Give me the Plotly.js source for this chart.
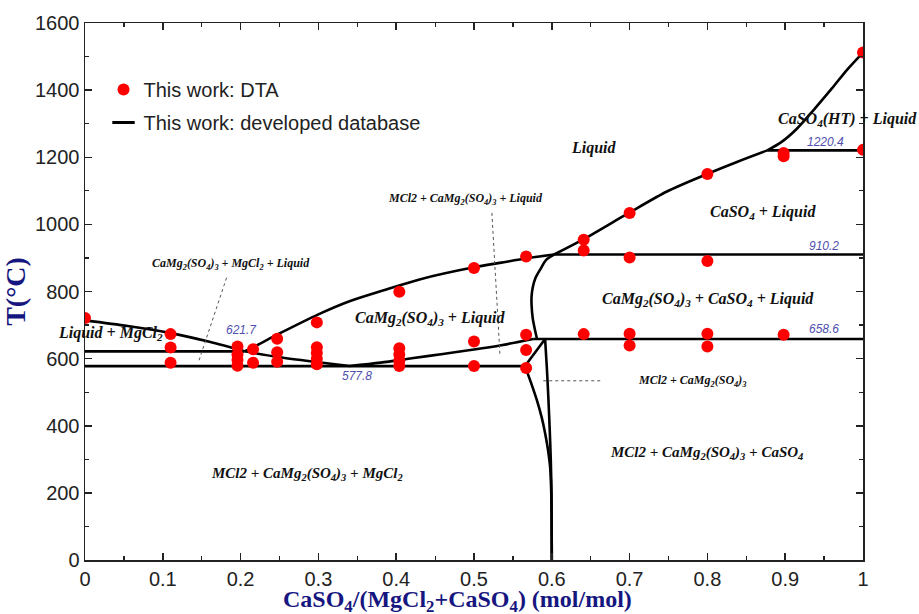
<!DOCTYPE html>
<html>
<head>
<meta charset="utf-8">
<script src="https://cdn.plot.ly/plotly-3.0.1.min.js"></script>
<style>
  html, body { margin: 0; padding: 0; background: #fff; }
  #chart { width: 919px; height: 614px; }
</style>
</head>
<body>
<div id="chart"></div>
<script>
// ---- DTA measurements: composition x(CaSO4) in mol/mol, temperature in °C ----
const dtaX = [
  0,
  0.11, 0.11, 0.11,
  0.196, 0.196, 0.196, 0.196,
  0.216, 0.216,
  0.247, 0.247, 0.247,
  0.298, 0.298, 0.298, 0.298, 0.298,
  0.404, 0.404, 0.404, 0.404, 0.404,
  0.5, 0.5, 0.5,
  0.567, 0.567, 0.567, 0.567,
  0.641, 0.641, 0.641,
  0.7, 0.7, 0.7, 0.7,
  0.8, 0.8, 0.8, 0.8,
  0.898, 0.898, 0.898,
  1.0, 1.0
];
const dtaT = [
  721,
  673, 633, 588,
  636, 612, 596, 579,
  628, 588,
  659, 619, 591,
  708, 634, 617, 600, 583,
  799, 631, 612, 594, 578,
  870, 651, 578,
  904, 671, 626, 572,
  954, 922, 673,
  1034, 901, 674, 639,
  1150, 891, 674, 636,
  1213, 1203, 671,
  1512, 1222
];

// ---- Calculated phase boundaries (developed database) ----
// MgCl2 liquidus
const liqMgCl2X = [0, 0.055, 0.11, 0.16, 0.205];
const liqMgCl2T = [714, 697, 676, 650, 621.7];
// boundary running from 621.7 °C down to the eutectic at 577.8 °C
const eutLeftX = [0.205, 0.25, 0.30, 0.34];
const eutLeftT = [621.7, 604, 589, 577.8];
// boundary rising from the eutectic to the 658.6 °C invariant
const eutRightX = [0.34, 0.38, 0.42, 0.46, 0.50, 0.535, 0.576];
const eutRightT = [577.8, 588, 601, 614, 627, 640, 658.6];
// CaMg2(SO4)3 liquidus
const liqDoubleX = [0.205, 0.216, 0.25, 0.30, 0.34, 0.383, 0.43, 0.50, 0.535, 0.568, 0.603];
const liqDoubleT = [621.7, 634, 675, 732, 771, 803, 836, 872, 886, 899, 910.2];
// CaMg2(SO4)3 stability limit between 910.2 and 658.6 °C
const doubleLimitX = [0.603, 0.593, 0.585, 0.579, 0.5755, 0.574, 0.574, 0.5755, 0.578, 0.581];
const doubleLimitT = [910.2, 895, 865, 840, 812, 785, 760, 720, 690, 658.6];
// CaSO4 liquidus
const liqCaSO4X = [0.603, 0.641, 0.699, 0.748, 0.7995, 0.838, 0.877];
const liqCaSO4T = [910.2, 956, 1034, 1098, 1150, 1186, 1220.4];
// CaSO4(HT) liquidus
const liqHTX = [0.877, 0.895, 0.915, 0.937, 0.96, 0.98, 1.0];
const liqHTT = [1220.4, 1245, 1285, 1342, 1405, 1462, 1512];
// short link between the two lower invariants
const linkX = [0.5656, 0.5914];
const linkT = [577.8, 658.6];
// solid-state boundaries converging on x = 0.6
const solidAX = [0.5656, 0.573, 0.5807, 0.587, 0.5914, 0.595, 0.5978, 0.5993, 0.6];
const solidAT = [577.8, 530, 477, 425, 378, 330, 278, 200, 0];
const solidBX = [0.5914, 0.5937, 0.5957, 0.5973, 0.5987, 0.5996, 0.6];
const solidBT = [658.6, 570, 477, 390, 298, 200, 0];

// invariant isotherms: temperature, start and end composition
const isoT    = [577.8, 621.7, 658.6, 910.2, 1220.4];
const isoFrom = [0,     0,     0.576, 0.603, 0.877];
const isoTo   = [0.5656, 0.205, 1,    1,     1];

// ---- traces ----
const lineStyle = { color: '#000', width: 2.6 };
const boundaries = [
  [liqMgCl2X, liqMgCl2T], [eutLeftX, eutLeftT], [eutRightX, eutRightT],
  [liqDoubleX, liqDoubleT], [doubleLimitX, doubleLimitT], [liqCaSO4X, liqCaSO4T],
  [liqHTX, liqHTT], [linkX, linkT], [solidAX, solidAT], [solidBX, solidBT]
];
const traces = boundaries.map(([x, y]) => ({
  x, y, type: 'scatter', mode: 'lines', line: { ...lineStyle, shape: 'spline', smoothing: 0.8 },
  showlegend: false, hoverinfo: 'skip'
}));
isoT.forEach((t, i) => {
  traces.push({
    x: [isoFrom[i], isoTo[i]], y: [t, t], type: 'scatter', mode: 'lines',
    line: lineStyle, showlegend: false, hoverinfo: 'skip'
  });
});
traces.push({
  x: dtaX, y: dtaT, type: 'scatter', mode: 'markers', name: 'This work: DTA',
  marker: { color: '#ff0000', size: 12 }, legendgroup: 'dta', legendrank: 1
});
// legend entry for the calculated lines
traces.push({
  x: [null], y: [null], type: 'scatter', mode: 'markers', name: 'This work: developed database',
  marker: { symbol: 'line-ew', size: 16, color: '#000', line: { color: '#000', width: 3 } },
  legendgroup: 'db', legendrank: 2
});

// ---- labels ----
const serif = 'Liberation Serif, Times New Roman, serif';
const sans = 'Liberation Sans, Arial, sans-serif';
function phase(text, x, y, size) {
  return { text: '<b><i>' + text + '</i></b>', x, y, xref: 'x', yref: 'y', showarrow: false,
           font: { family: serif, size: size, color: '#111' } };
}
const S = s => '<sub>' + s + '</sub>';
const CaMg = 'CaMg' + S('2') + '(SO' + S('4') + ')' + S('3');
const annotations = [
  phase('Liquid', 0.654, 1228, 16),
  phase('CaSO' + S('4') + '(HT) + Liquid', 0.98, 1312, 16),
  phase('CaSO' + S('4') + ' + Liquid', 0.872, 1035, 16),
  phase(CaMg + ' + CaSO' + S('4') + ' + Liquid', 0.801, 775, 16),
  phase('MCl2 + ' + CaMg, 0.7806, 534, 12),
  phase('MCl2 + ' + CaMg + ' + CaSO' + S('4'), 0.7985, 319, 15),
  phase('MCl2 + ' + CaMg + ' + MgCl' + S('2'), 0.2855, 256, 15),
  phase(CaMg + ' + Liquid', 0.4434, 721, 16),
  phase('Liquid + MgCl' + S('2'), 0.033, 674, 16),
  phase('MCl2 + ' + CaMg + ' + Liquid', 0.489, 1076, 12),
  phase(CaMg + ' + MgCl' + S('2') + ' + Liquid', 0.1873, 882, 12)
];
// isotherm values, written next to their lines
const isoLabelPos = { 577.8: [0.3498, 549], 621.7: [0.201, 686], 658.6: [0.9505, 689],
                      910.2: [0.9505, 936], 1220.4: [0.9517, 1246] };
isoT.forEach(t => {
  const [x, y] = isoLabelPos[t];
  annotations.push({ text: '<i>' + t.toFixed(1) + '</i>', x, y, xref: 'x', yref: 'y',
    showarrow: false, font: { family: sans, size: 12, color: '#4f4fae' } });
});
// composition axis title
annotations.push({
  text: '<b>CaSO' + S('4') + '/(MgCl' + S('2') + '+CaSO' + S('4') + ') (mol/mol)</b>',
  x: 0.4794, y: -0.0755, xref: 'paper', yref: 'paper', xanchor: 'center', yanchor: 'middle',
  showarrow: false, font: { family: serif, size: 24, color: '#161680' }
});

// dotted leader lines from the small labels
const dot = { color: '#555', width: 1, dash: 'dot' };
const shapes = [
  { type: 'line', xref: 'x', yref: 'y', x0: 0.182, y0: 841, x1: 0.146, y1: 591, line: dot },
  { type: 'line', xref: 'x', yref: 'y', x0: 0.523, y0: 1034, x1: 0.5335, y1: 606, line: dot },
  { type: 'line', xref: 'x', yref: 'y', x0: 0.589, y0: 534, x1: 0.666, y1: 534, line: dot }
];

const axisCommon = {
  showline: true, linewidth: 1.5, linecolor: '#222', mirror: 'ticks',
  ticks: 'inside', ticklen: 7, tickwidth: 1.5, tickcolor: '#222',
  showgrid: false, zeroline: false,
  tickfont: { family: sans, size: 20, color: '#222' }
};

const layout = {
  width: 919, height: 614,
  margin: { l: 85, r: 56, t: 23, b: 54 },
  paper_bgcolor: '#fff', plot_bgcolor: '#fff',
  showlegend: true,
  legend: { x: 0.0238, y: 0.9126, xanchor: 'left', yanchor: 'top', bgcolor: 'rgba(0,0,0,0)',
            traceorder: 'grouped', tracegroupgap: 4,
            font: { family: sans, size: 20, color: '#222' } },
  xaxis: { ...axisCommon, range: [0, 1], tick0: 0, dtick: 0.1,
           minor: { dtick: 0.05, ticks: 'inside', ticklen: 4, tickwidth: 1.2, tickcolor: '#222', showgrid: false } },
  yaxis: { ...axisCommon, range: [0, 1600], tick0: 0, dtick: 200,
           minor: { dtick: 100, ticks: 'inside', ticklen: 4, tickwidth: 1.2, tickcolor: '#222', showgrid: false },
           title: { text: '<b>T(°C)</b>', font: { family: serif, size: 28, color: '#161680' }, standoff: 2 } },
  annotations, shapes
};

Plotly.newPlot('chart', traces, layout, { staticPlot: true, displayModeBar: false });
</script>
</body>
</html>
